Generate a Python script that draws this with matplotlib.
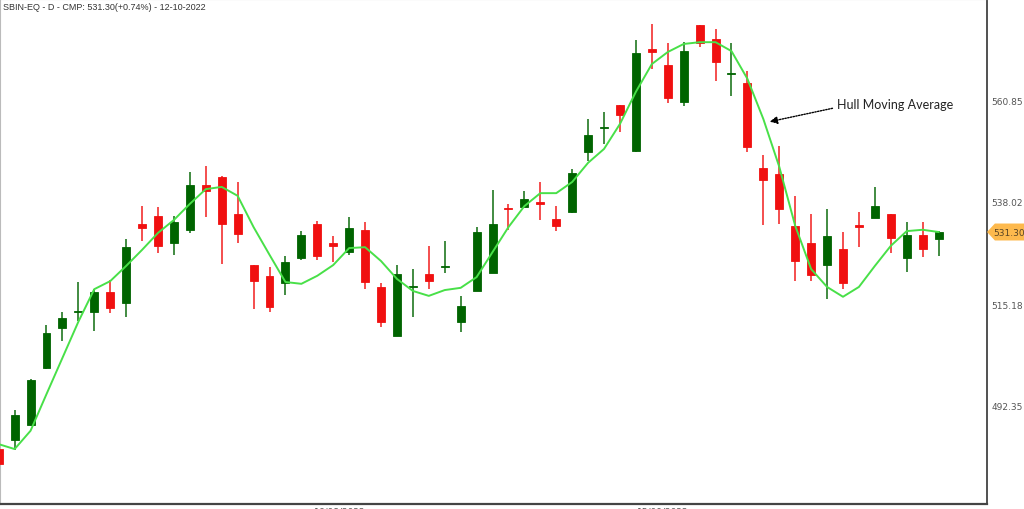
import matplotlib.pyplot as plt
from matplotlib.patches import Polygon
from matplotlib.transforms import blended_transform_factory

# daily SBIN-EQ candles (60 sessions up to 12-10-2022)
opens = [482.7, 484.7, 488.2, 500.9, 509.8, 513.5, 513.4, 517.9, 515.4, 533.1,
         534.9, 528.8, 531.8, 541.8, 543.6, 535.3, 523.9, 521.5, 519.9, 525.5,
         533.1, 528.8, 526.8, 531.8, 519.0, 508.0, 519.0, 521.9, 523.5, 511.2,
         518.1, 522.1, 536.7, 536.9, 538.0, 534.2, 535.8, 549.2, 554.5, 559.7,
         549.4, 572.2, 568.7, 560.4, 577.7, 574.5, 566.7, 564.7, 545.6, 544.3,
         532.7, 528.8, 523.9, 527.5, 532.9, 534.4, 535.3, 525.5, 530.6, 529.7]
highs = [483.0, 491.5, 498.4, 510.5, 513.4, 520.1, 518.5, 520.6, 529.7, 537.1,
         536.9, 534.9, 544.7, 546.1, 543.8, 542.5, 523.9, 523.5, 525.9, 531.5,
         533.8, 530.4, 534.7, 533.5, 519.9, 523.9, 523.0, 528.2, 529.3, 517.0,
         532.4, 540.7, 537.6, 540.5, 542.5, 537.1, 545.4, 556.6, 558.2, 559.7,
         574.3, 577.9, 573.6, 573.8, 577.7, 576.8, 573.6, 567.4, 548.5, 550.6,
         539.4, 535.3, 536.5, 531.3, 535.8, 541.4, 535.3, 533.5, 533.5, 531.5]
lows = [479.0, 482.5, 487.9, 500.6, 506.9, 511.4, 509.1, 513.2, 512.3, 529.3,
        526.6, 526.2, 531.1, 534.7, 524.1, 528.8, 514.1, 513.4, 517.2, 525.0,
        525.0, 524.6, 526.2, 518.5, 510.0, 508.0, 512.3, 518.5, 522.1, 508.9,
        518.1, 522.1, 531.8, 536.9, 534.0, 531.5, 535.6, 547.2, 551.0, 553.7,
        549.2, 567.8, 560.2, 559.5, 572.7, 565.1, 561.8, 549.2, 532.9, 533.1,
        520.3, 520.3, 516.3, 518.5, 527.9, 534.4, 526.6, 522.4, 525.7, 525.9]
closes = [479.4, 490.4, 498.2, 508.7, 512.1, 513.7, 517.9, 514.3, 527.9, 532.2,
          528.2, 533.5, 541.8, 540.5, 533.1, 530.9, 520.3, 514.6, 524.6, 530.6,
          525.9, 528.2, 532.2, 520.1, 511.2, 521.9, 519.2, 520.3, 523.7, 514.7,
          531.3, 533.1, 536.5, 538.7, 537.6, 532.7, 544.5, 553.0, 554.7, 557.5,
          571.4, 571.7, 561.3, 571.8, 573.6, 569.4, 566.9, 550.3, 543.0, 536.5,
          524.8, 521.7, 530.4, 519.9, 532.5, 537.1, 530.0, 530.6, 527.4, 531.3]
hma = [483.8, 482.7, 486.8, 495.0, 503.1, 511.2, 518.5, 520.3, 523.7, 527.3,
       531.1, 534.0, 537.6, 540.9, 541.4, 539.4, 532.4, 526.2, 520.1, 519.7,
       521.5, 523.9, 527.7, 527.9, 524.8, 520.8, 518.1, 517.0, 518.3, 518.8,
       521.2, 526.8, 532.4, 537.1, 540.0, 540.0, 542.5, 546.8, 549.9, 555.5,
       562.7, 568.9, 571.6, 573.4, 573.8, 573.8, 571.8, 565.6, 556.6, 545.9,
       532.7, 523.0, 519.0, 516.8, 519.0, 523.7, 528.2, 531.5, 531.8, 531.3]
yticks = [492.35, 515.18, 538.02, 560.85]

up_col = '#006400'
down_col = '#f01010'

fig = plt.figure(figsize=(10.24, 5.10), dpi=100)
ax = fig.add_axes([0, 5 / 510, 987 / 1024, 505 / 510])

x = list(range(len(opens)))
for i in x:
    o, h, l, c = opens[i], highs[i], lows[i], closes[i]
    col = up_col if c >= o else down_col
    ax.vlines(i, l, h, color=col, lw=1.3, alpha=0.8, zorder=2)
    ax.bar(i, abs(c - o), bottom=min(o, c), width=0.5, color=col,
           edgecolor=col, lw=0.6, zorder=3)

ax.plot(x, hma, color='#48e048', lw=1.4, zorder=4)

ax.set_xlim(0.082, 62.04)
ax.set_ylim(470.40, 583.47)

# right price axis
ax.yaxis.tick_right()
ax.set_yticks(yticks)
ax.set_yticklabels([f'{v:.2f}' for v in yticks])
ax.tick_params(axis='y', length=0, pad=3, labelsize=6.5, labelcolor='#555555')
ax.set_xticks([21.4, 41.7])
ax.set_xticklabels(['16/08/2022', '15/09/2022'])
ax.tick_params(axis='x', length=0, pad=2, labelsize=6.5, labelcolor='#555555')

for s in ['left', 'top']:
    ax.spines[s].set_color('#bbbbbb')
    ax.spines[s].set_linewidth(0.8)
ax.spines['right'].set_color('#333333')
ax.spines['right'].set_linewidth(1.2)
ax.spines['bottom'].set_color('#444444')
ax.spines['bottom'].set_linewidth(1.6)

# current price tag
tr = blended_transform_factory(ax.transAxes, ax.transData)
last = closes[-1]
tag = Polygon([(1.0, last), (1.008, last + 1.9), (1.04, last + 1.9),
               (1.04, last - 1.9), (1.008, last - 1.9)],
              closed=True, transform=tr, clip_on=False,
              facecolor='#fdb94d', edgecolor='none', zorder=5)
ax.add_patch(tag)
ax.text(1.022, last, f'{last:.2f}', transform=tr, ha='center', va='center',
        fontsize=6.5, color='#5a4525', clip_on=False, zorder=6)

ax.annotate('Hull Moving Average', xy=(48.4, 556.0), xytext=(52.6, 560.0),
            fontsize=9, family='Lato', color='#222222', ha='left', va='center',
            arrowprops=dict(arrowstyle='-|>', linestyle=(0, (1, 1)),
                            color='black', lw=1, shrinkA=1, shrinkB=0,
                            relpos=(0, 0.2), mutation_scale=11))

fig.text(3 / 1024, 1 - 8 / 510, 'SBIN-EQ - D - CMP: 531.30(+0.74%) - 12-10-2022',
         fontsize=6.5, family='Liberation Sans', color='#333333',
         ha='left', va='center')

fig.savefig('out.png', dpi=100, facecolor='white')
